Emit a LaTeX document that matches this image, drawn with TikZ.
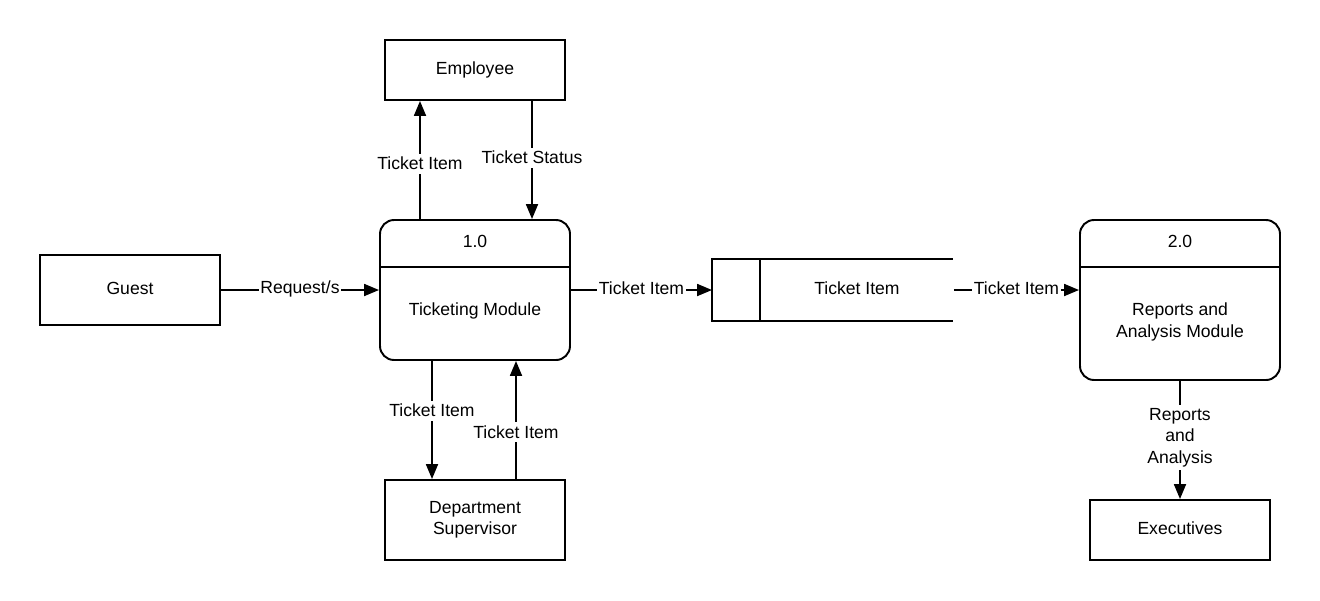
\documentclass[tikz,border=0pt]{standalone}
\usepackage{fontspec}
\setmainfont{Liberation Sans}
\usetikzlibrary{arrows.meta,calc}
\begin{document}
\begin{tikzpicture}[x=0.02cm,y=-0.02cm,
  font=\fontsize{10}{12.2}\selectfont,
  line width=1.1pt,
  entity/.style={draw,rectangle,inner sep=0pt,align=center},
  proc/.style={draw,rectangle,rounded corners=8pt,inner sep=0pt},
  txt/.style={inner sep=0pt,align=center},
  flow/.style={-{Triangle[length=8.5pt,width=6.8pt]}},
  lab/.style={fill=white,inner xsep=1pt,inner ysep=2pt,align=center}]
\useasboundingbox (0,0) rectangle (1320,600);
% external entities
\node[entity,minimum width=180*0.02cm,minimum height=60*0.02cm] (emp) at (475,70) {Employee};
\node[entity,minimum width=180*0.02cm,minimum height=70*0.02cm] (guest) at (130,290) {};
\node[txt] (guesttxt) at (130,288) {Guest};
\node[entity,minimum width=180*0.02cm,minimum height=80*0.02cm] (dept) at (475,520) {};
\node[txt] (depttxt) at (475,520) {Department\\Supervisor};
\node[entity,minimum width=180*0.02cm,minimum height=60*0.02cm] (exec) at (1180,530) {};
\node[txt] (exectxt) at (1180,528) {Executives};
% process 1.0
\node[proc,minimum width=190*0.02cm,minimum height=140*0.02cm] (p1) at (475,290) {};
\draw ($(p1.north west)+(0,48)$) coordinate (p1dl) -- ($(p1.north east)+(0,48)$) coordinate (p1dr);
\node[txt] (p1id) at (475,241) {1.0};
\node[txt] (p1name) at (475,311) {Ticketing Module};
% process 2.0
\node[proc,minimum width=200*0.02cm,minimum height=160*0.02cm] (p2) at (1180,300) {};
\draw ($(p2.north west)+(0,48)$) coordinate (p2dl) -- ($(p2.north east)+(0,48)$) coordinate (p2dr);
\node[txt] (p2id) at (1180,241) {2.0};
\node[txt] (p2name) at (1180,322) {Reports and\\Analysis Module};
% data store
\node[minimum width=239*0.02cm,minimum height=60*0.02cm,inner sep=0pt] (store) at (832.5,290) {};
\draw (store.north east) -- (store.north west) -- (store.south west) -- (store.south east);
\draw ($(store.north west)+(48,0)$) coordinate (sdt) -- ($(store.south west)+(48,0)$) coordinate (sdb);
\node[txt] (stxt) at (857,288) {Ticket Item};
% flows
\draw[flow] (guest.east) -- node[lab,yshift=1.5*0.02cm] (l1) {Request/s} (guest.east -| p1.west);
\draw[flow] (p1.north -| 420,0) -- node[lab,pos=0.47] (l2) {Ticket Item} (emp.south -| 420,0);
\draw[flow] (emp.south -| 532,0) -- node[lab,pos=0.48] (l3) {Ticket Status} (p1.north -| 532,0);
\draw[flow] (p1.south -| 432,0) -- node[lab,pos=0.42] (l4) {Ticket Item} (dept.north -| 432,0);
\draw[flow] (dept.north -| 516,0) -- node[lab,pos=0.4] (l5) {Ticket Item} (p1.south -| 516,0);
\draw[flow] (p1.east) -- node[lab,yshift=1.5*0.02cm] (l6) {Ticket Item} (store.west);
\draw[flow] ($(store.east)+(1,0)$) -- node[lab,yshift=1.5*0.02cm] (l7) {Ticket Item} (p2.west |- store.east);
\draw[flow] (p2.south) -- node[lab,pos=0.48] (l8) {Reports\\and\\Analysis} (exec.north);
\end{tikzpicture}
\end{document}
